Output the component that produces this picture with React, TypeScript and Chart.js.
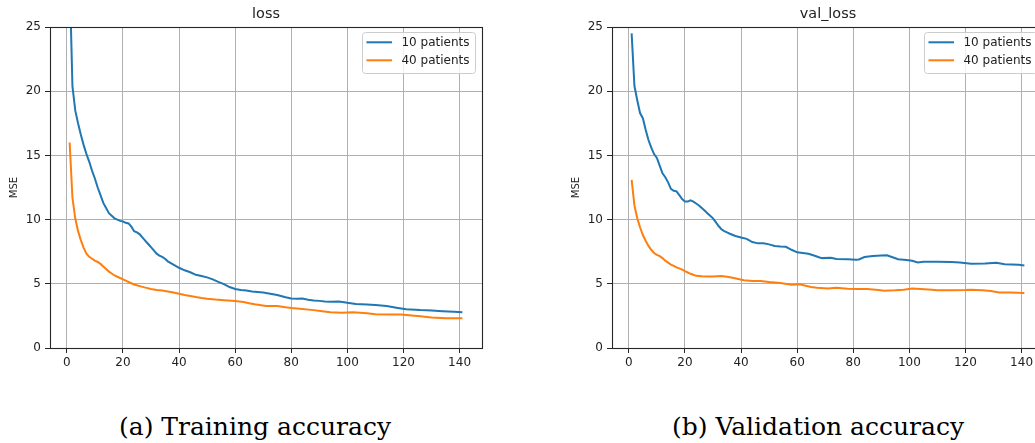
import React, { useEffect, useRef } from "react";
import { Chart, registerables } from "chart.js";

Chart.register(...registerables);

// ---------- data ----------
const xTicks = [0, 20, 40, 60, 80, 100, 120, 140];
const yTicks = [0, 5, 10, 15, 20, 25];
const seriesLabels = ["10 patients", "40 patients"];
const seriesColors = ["#1f77b4", "#ff7f0e"];
const panelTitles = ["loss", "val_loss"];
const captions = ["(a) Training accuracy", "(b) Validation accuracy"];

// training loss, 10 patients
const lossEpochs10 = [1, 2, 3, 4, 5, 6, 7, 8, 9, 10, 11, 12, 13, 14, 15, 16, 17, 18, 19, 20, 21, 22, 23, 24, 25, 26, 27, 28, 29, 30, 31, 32, 33, 34, 35, 36, 38, 40, 42, 44, 46, 48, 50, 52, 54, 56, 58, 60, 62, 64, 66, 68, 70, 72, 75, 78, 80, 82, 84, 86, 88, 90, 92, 94, 97, 100, 103, 107, 110, 114, 118, 121, 126, 130, 134, 138, 141];
const loss10 = [29, 20.4, 18.5, 17.5, 16.6, 15.8, 15.1, 14.5, 13.8, 13.2, 12.5, 11.9, 11.3, 10.9, 10.5, 10.3, 10.1, 10.0, 9.9, 9.85, 9.75, 9.7, 9.45, 9.1, 9.0, 8.85, 8.6, 8.35, 8.1, 7.85, 7.6, 7.35, 7.2, 7.1, 6.95, 6.75, 6.5, 6.25, 6.05, 5.9, 5.7, 5.6, 5.5, 5.35, 5.15, 4.98, 4.75, 4.6, 4.52, 4.47, 4.4, 4.37, 4.33, 4.25, 4.12, 3.95, 3.85, 3.84, 3.86, 3.76, 3.7, 3.67, 3.63, 3.6, 3.63, 3.52, 3.43, 3.38, 3.34, 3.27, 3.12, 3.02, 2.95, 2.92, 2.87, 2.83, 2.78];

// training loss, 40 patients
const lossEpochs40 = [1, 2, 3, 4, 5, 6, 7, 8, 9, 10, 11, 12, 13, 14, 15, 16, 17, 18, 19, 20, 21, 22, 24, 26, 28, 30, 32, 34, 36, 38, 40, 42, 44, 46, 48, 50, 53, 56, 60, 63, 65, 67, 71, 75, 78, 80, 83, 88, 91, 94, 98, 102, 107, 110, 115, 119, 122, 126, 130, 135, 141];
const loss40 = [16.0, 11.7, 10.1, 9.1, 8.4, 7.8, 7.35, 7.1, 6.95, 6.8, 6.7, 6.55, 6.35, 6.15, 5.95, 5.8, 5.65, 5.55, 5.45, 5.35, 5.25, 5.14, 4.95, 4.82, 4.7, 4.6, 4.52, 4.48, 4.4, 4.32, 4.22, 4.12, 4.05, 3.97, 3.9, 3.84, 3.77, 3.72, 3.66, 3.58, 3.48, 3.4, 3.27, 3.27, 3.17, 3.12, 3.06, 2.95, 2.87, 2.79, 2.75, 2.79, 2.7, 2.62, 2.6, 2.6, 2.55, 2.47, 2.38, 2.32, 2.31];

// validation loss, 10 patients
const valEpochs10 = [1, 2, 3, 4, 5, 6, 7, 8, 9, 10, 11, 12, 13, 14, 15, 16, 17, 18, 19, 20, 21, 22, 23, 24, 25, 26, 27, 28, 29, 30, 31, 32, 33, 34, 35, 36, 38, 40, 42, 44, 46, 48, 50, 52, 54, 56, 58, 60, 62, 64, 66, 68, 69, 72, 74, 78, 81, 82, 84, 87, 90, 92, 93, 96, 99, 101, 103, 105, 110, 115, 118, 122, 127, 131, 134, 139, 141];
const val10 = [24.5, 20.4, 19.3, 18.3, 17.9, 17.0, 16.2, 15.6, 15.1, 14.8, 14.2, 13.6, 13.3, 12.9, 12.4, 12.25, 12.2, 11.9, 11.6, 11.4, 11.4, 11.5, 11.4, 11.25, 11.1, 10.9, 10.7, 10.5, 10.3, 10.1, 9.8, 9.5, 9.25, 9.1, 9.0, 8.9, 8.72, 8.6, 8.5, 8.25, 8.15, 8.15, 8.07, 7.95, 7.9, 7.88, 7.65, 7.45, 7.4, 7.34, 7.2, 7.05, 7.0, 7.03, 6.93, 6.92, 6.87, 6.9, 7.08, 7.16, 7.2, 7.22, 7.15, 6.92, 6.85, 6.8, 6.66, 6.72, 6.71, 6.69, 6.66, 6.56, 6.58, 6.64, 6.53, 6.48, 6.43];

// validation loss, 40 patients
const valEpochs40 = [1, 2, 3, 4, 5, 6, 7, 8, 9, 10, 11, 12, 13, 14, 15, 16, 17, 18, 19, 20, 21, 22, 23, 24, 26, 28, 30, 33, 35, 37, 39, 41, 44, 47, 50, 54, 58, 61, 63, 65, 67, 71, 74, 78, 82, 85, 89, 91, 95, 98, 101, 104, 108, 110, 115, 120, 122, 126, 129, 132, 136, 141];
const val40 = [13.1, 11.1, 10.1, 9.4, 8.8, 8.35, 7.95, 7.65, 7.4, 7.25, 7.15, 7.0, 6.8, 6.65, 6.5, 6.4, 6.28, 6.2, 6.1, 5.98, 5.88, 5.78, 5.7, 5.62, 5.58, 5.56, 5.56, 5.6, 5.55, 5.47, 5.38, 5.28, 5.22, 5.22, 5.14, 5.06, 4.93, 4.96, 4.85, 4.75, 4.69, 4.64, 4.69, 4.61, 4.59, 4.59, 4.51, 4.46, 4.49, 4.54, 4.64, 4.59, 4.54, 4.49, 4.49, 4.51, 4.54, 4.49, 4.44, 4.33, 4.33, 4.28];

const panels = [
  { title: panelTitles[0], series: [[lossEpochs10, loss10], [lossEpochs40, loss40]] },
  { title: panelTitles[1], series: [[valEpochs10, val10], [valEpochs40, val40]] },
];

// ---------- plugins ----------
const alignPx = (p: number) => Math.round(p - 0.5) + 0.5;

const framePlugin = {
  id: "frame",
  afterDatasetsDraw(chart: any) {
    const { ctx, chartArea } = chart;
    const l = alignPx(chartArea.left);
    const r = alignPx(chartArea.right);
    const t = alignPx(chartArea.top);
    const b = alignPx(chartArea.bottom);
    ctx.save();
    ctx.strokeStyle = "#262626";
    ctx.lineWidth = 1.1;
    ctx.strokeRect(l, t, r - l, b - t);
    ctx.restore();
  },
};

const boxLegendPlugin = {
  id: "boxLegend",
  afterDraw(chart: any) {
    const { ctx, chartArea } = chart;
    const ds = chart.data.datasets;
    ctx.save();
    ctx.font = '12px "DejaVu Sans"';
    const maxW = Math.max(...ds.map((d: any) => ctx.measureText(d.label).width));
    const w = 39.7 + maxW + 5.5;
    const h = 41;
    const right = chartArea.right - 7;
    const left = right - w;
    const top = chartArea.top + 5;
    ctx.beginPath();
    ctx.roundRect(Math.round(left) + 0.5, Math.round(top) + 0.5, Math.round(w), h, 3);
    ctx.fillStyle = "rgba(255,255,255,0.8)";
    ctx.fill();
    ctx.strokeStyle = "#cccccc";
    ctx.lineWidth = 1;
    ctx.stroke();
    ds.forEach((d: any, i: number) => {
      const y = top + 10.3 + i * 18;
      ctx.strokeStyle = d.borderColor;
      ctx.lineWidth = 2;
      ctx.beginPath();
      ctx.moveTo(left + 4.7, y);
      ctx.lineTo(left + 30.3, y);
      ctx.stroke();
      ctx.fillStyle = "#222222";
      ctx.textBaseline = "middle";
      ctx.textAlign = "left";
      ctx.fillText(d.label, left + 39.7, y + 0.8);
    });
    ctx.restore();
  },
};

const tickFont = { family: "DejaVu Sans", size: 12 };

function Panel({ panel, left }: { panel: any; left: number }) {
  const ref = useRef<HTMLCanvasElement | null>(null);
  useEffect(() => {
    if (!ref.current) return;
    const datasets = panel.series.map((s: any, i: number) => ({
      label: seriesLabels[i],
      data: s[0].map((e: number, j: number) => ({ x: e, y: s[1][j] })),
      borderColor: seriesColors[i],
      backgroundColor: seriesColors[i],
      borderWidth: 2,
      pointRadius: 0,
      tension: 0,
      fill: false,
    }));
    const chart = new Chart(ref.current, {
      type: "line",
      data: { datasets },
      options: {
        animation: false,
        responsive: false,
        maintainAspectRatio: false,
        layout: { padding: { left: 0, right: 18, top: 0, bottom: 0 } },
        plugins: {
          legend: { display: false },
          tooltip: { enabled: false },
          title: {
            display: true,
            text: panel.title,
            fullSize: false,
            color: "#222222",
            font: { family: "DejaVu Sans", size: 14.4, weight: "normal" },
            padding: { top: 5.4, bottom: 4.32 },
          },
        },
        scales: {
          x: {
            type: "linear",
            min: -6,
            max: 148,
            afterBuildTicks: (s: any) => {
              s.ticks = xTicks.map((v) => ({ value: v }));
            },
            afterFit: (s: any) => {
              s.height = 32;
            },
            ticks: { font: tickFont, color: "#222222", padding: 3, maxRotation: 0, autoSkip: false },
            grid: { color: "#b0b0b0", lineWidth: 1, tickLength: 5, tickColor: "#262626", tickWidth: 1 },
            border: { display: false },
          },
          y: {
            type: "linear",
            min: 0,
            max: 25,
            afterBuildTicks: (s: any) => {
              s.ticks = yTicks.map((v) => ({ value: v }));
            },
            afterFit: (s: any) => {
              s.width = 50;
            },
            title: {
              display: true,
              text: "MSE",
              color: "#222222",
              font: { family: "DejaVu Sans", size: 10 },
              padding: { top: 8, bottom: 0 },
            },
            ticks: { font: tickFont, color: "#222222", padding: 4, autoSkip: false },
            grid: { color: "#b0b0b0", lineWidth: 1, tickLength: 5, tickColor: "#262626", tickWidth: 1 },
            border: { display: false },
          },
        },
      } as any,
      plugins: [framePlugin, boxLegendPlugin],
    });
    return () => chart.destroy();
  }, [panel]);
  return (
    <canvas
      ref={ref}
      width={500}
      height={380}
      style={{ position: "absolute", left, top: 0, width: 500, height: 380 }}
    />
  );
}

export default function App() {
  const captionStyle = (center: number): React.CSSProperties => ({
    position: "absolute",
    left: center - 250,
    width: 500,
    top: 414,
    textAlign: "center",
    fontFamily: '"DejaVu Serif", serif',
    fontSize: 25,
    lineHeight: "25px",
    color: "#000",
    whiteSpace: "nowrap",
  });
  return (
    <div
      style={{
        position: "fixed",
        left: 0,
        top: 0,
        width: 1035,
        height: 443,
        overflow: "hidden",
        background: "#fff",
      }}
    >
      <Panel panel={panels[0]} left={0} />
      <Panel panel={panels[1]} left={562} />
      <div style={captionStyle(255)}>{captions[0]}</div>
      <div style={captionStyle(818)}>{captions[1]}</div>
    </div>
  );
}
